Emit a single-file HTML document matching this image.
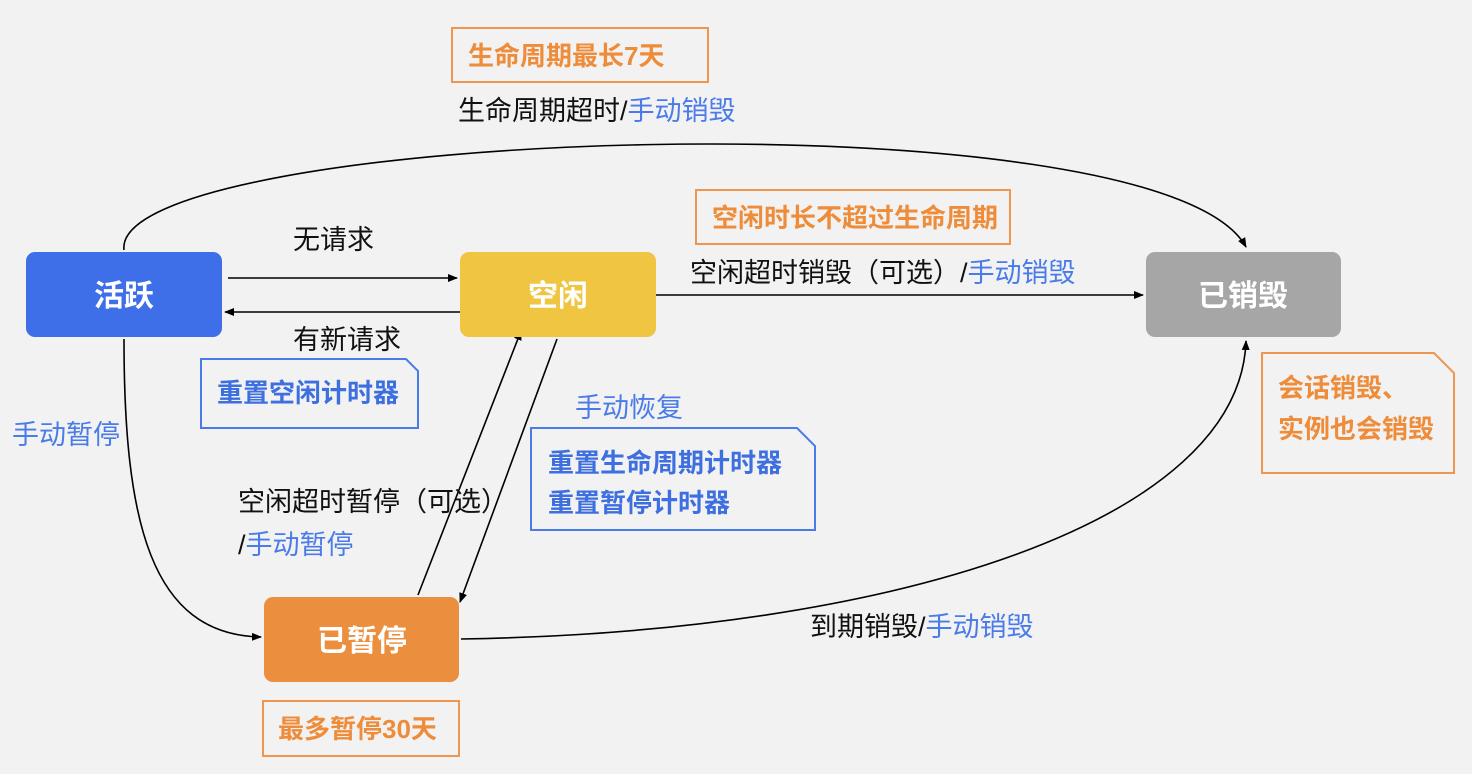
<!DOCTYPE html>
<html><head><meta charset="utf-8"><style>
html,body{margin:0;padding:0;background:#f2f2f2;}
svg{display:block;font-family:"Liberation Sans","Noto Sans CJK SC",sans-serif;}
</style></head><body>
<svg width="1472" height="774" viewBox="0 0 1472 774" xmlns="http://www.w3.org/2000/svg">
<defs>
<marker id="a" markerWidth="10" markerHeight="10" refX="9" refY="5" orient="auto" markerUnits="userSpaceOnUse">
<path d="M0,1 L10,5 L0,9 Z" fill="#000"/></marker>
</defs>
<rect width="1472" height="774" fill="#f2f2f2"/>
<g stroke="#000" stroke-width="1.6" fill="none" marker-end="url(#a)">
<path d="M228,278 L457,278"/>
<path d="M463,312 L225,312"/>
<path d="M656,295 L1143,295"/>
<path d="M124,250 C110,130 1160,90 1246,247"/>
<path d="M124,339 C124,520 150,635 261,637"/>
<path d="M461,639 C900,632 1240,520 1246,341"/>
<path d="M418,595 L521,331"/>
<path d="M557,339 L460,602"/>
</g>
<rect x="26" y="252" width="196" height="85" rx="9" fill="#3e6fe9"/>
<rect x="460" y="252" width="196" height="85" rx="9" fill="#f0c542"/>
<rect x="1146" y="252" width="195" height="85" rx="9" fill="#a6a6a6"/>
<rect x="264" y="597" width="195" height="85" rx="9" fill="#eb8e3e"/>
<g fill="#fff" font-size="30" font-weight="bold" text-anchor="middle">
<text x="124" y="306">活跃</text>
<text x="558" y="306">空闲</text>
<text x="1243" y="306">已销毁</text>
<text x="362" y="651">已暂停</text>
</g>
<g fill="none" stroke="#ee9650" stroke-width="2">
<rect x="452" y="28" width="256" height="54"/>
<rect x="696" y="190" width="314" height="54"/>
<rect x="263" y="701" width="196" height="55"/>
<path d="M1262,353 L1434,353 L1454,373 L1454,473 L1262,473 Z"/>
</g>
<g fill="#ee8c3a" font-size="26" font-weight="bold">
<text x="468" y="65">生命周期最长7天</text>
<text x="712" y="227">空闲时长不超过生命周期</text>
<text x="278" y="738">最多暂停30天</text>
<text x="1278" y="397">会话销毁、</text>
<text x="1278" y="438">实例也会销毁</text>
</g>
<g fill="none" stroke="#4a7be8" stroke-width="2">
<path d="M201,359 L406,359 L418,371 L418,428 L201,428 Z"/>
<path d="M531,428 L797,428 L815,446 L815,530 L531,530 Z"/>
</g>
<g fill="#3e6fe0" font-size="26" font-weight="bold">
<text x="217" y="402">重置空闲计时器</text>
<text x="548" y="472">重置生命周期计时器</text>
<text x="548" y="512">重置暂停计时器</text>
</g>
<g font-size="27" fill="#111">
<text x="458" y="120">生命周期超时/<tspan fill="#4a7be8">手动销毁</tspan></text>
<text x="293" y="249">无请求</text>
<text x="293" y="349">有新请求</text>
<text x="690" y="282">空闲超时销毁（可选）/<tspan fill="#4a7be8">手动销毁</tspan></text>
<text x="12" y="444" fill="#4a7be8">手动暂停</text>
<text x="575" y="417" fill="#4a7be8">手动恢复</text>
<text x="238" y="511">空闲超时暂停（可选）</text>
<text x="238" y="554">/<tspan fill="#4a7be8">手动暂停</tspan></text>
<text x="810" y="636">到期销毁/<tspan fill="#4a7be8">手动销毁</tspan></text>
</g>
</svg>
</body></html>
